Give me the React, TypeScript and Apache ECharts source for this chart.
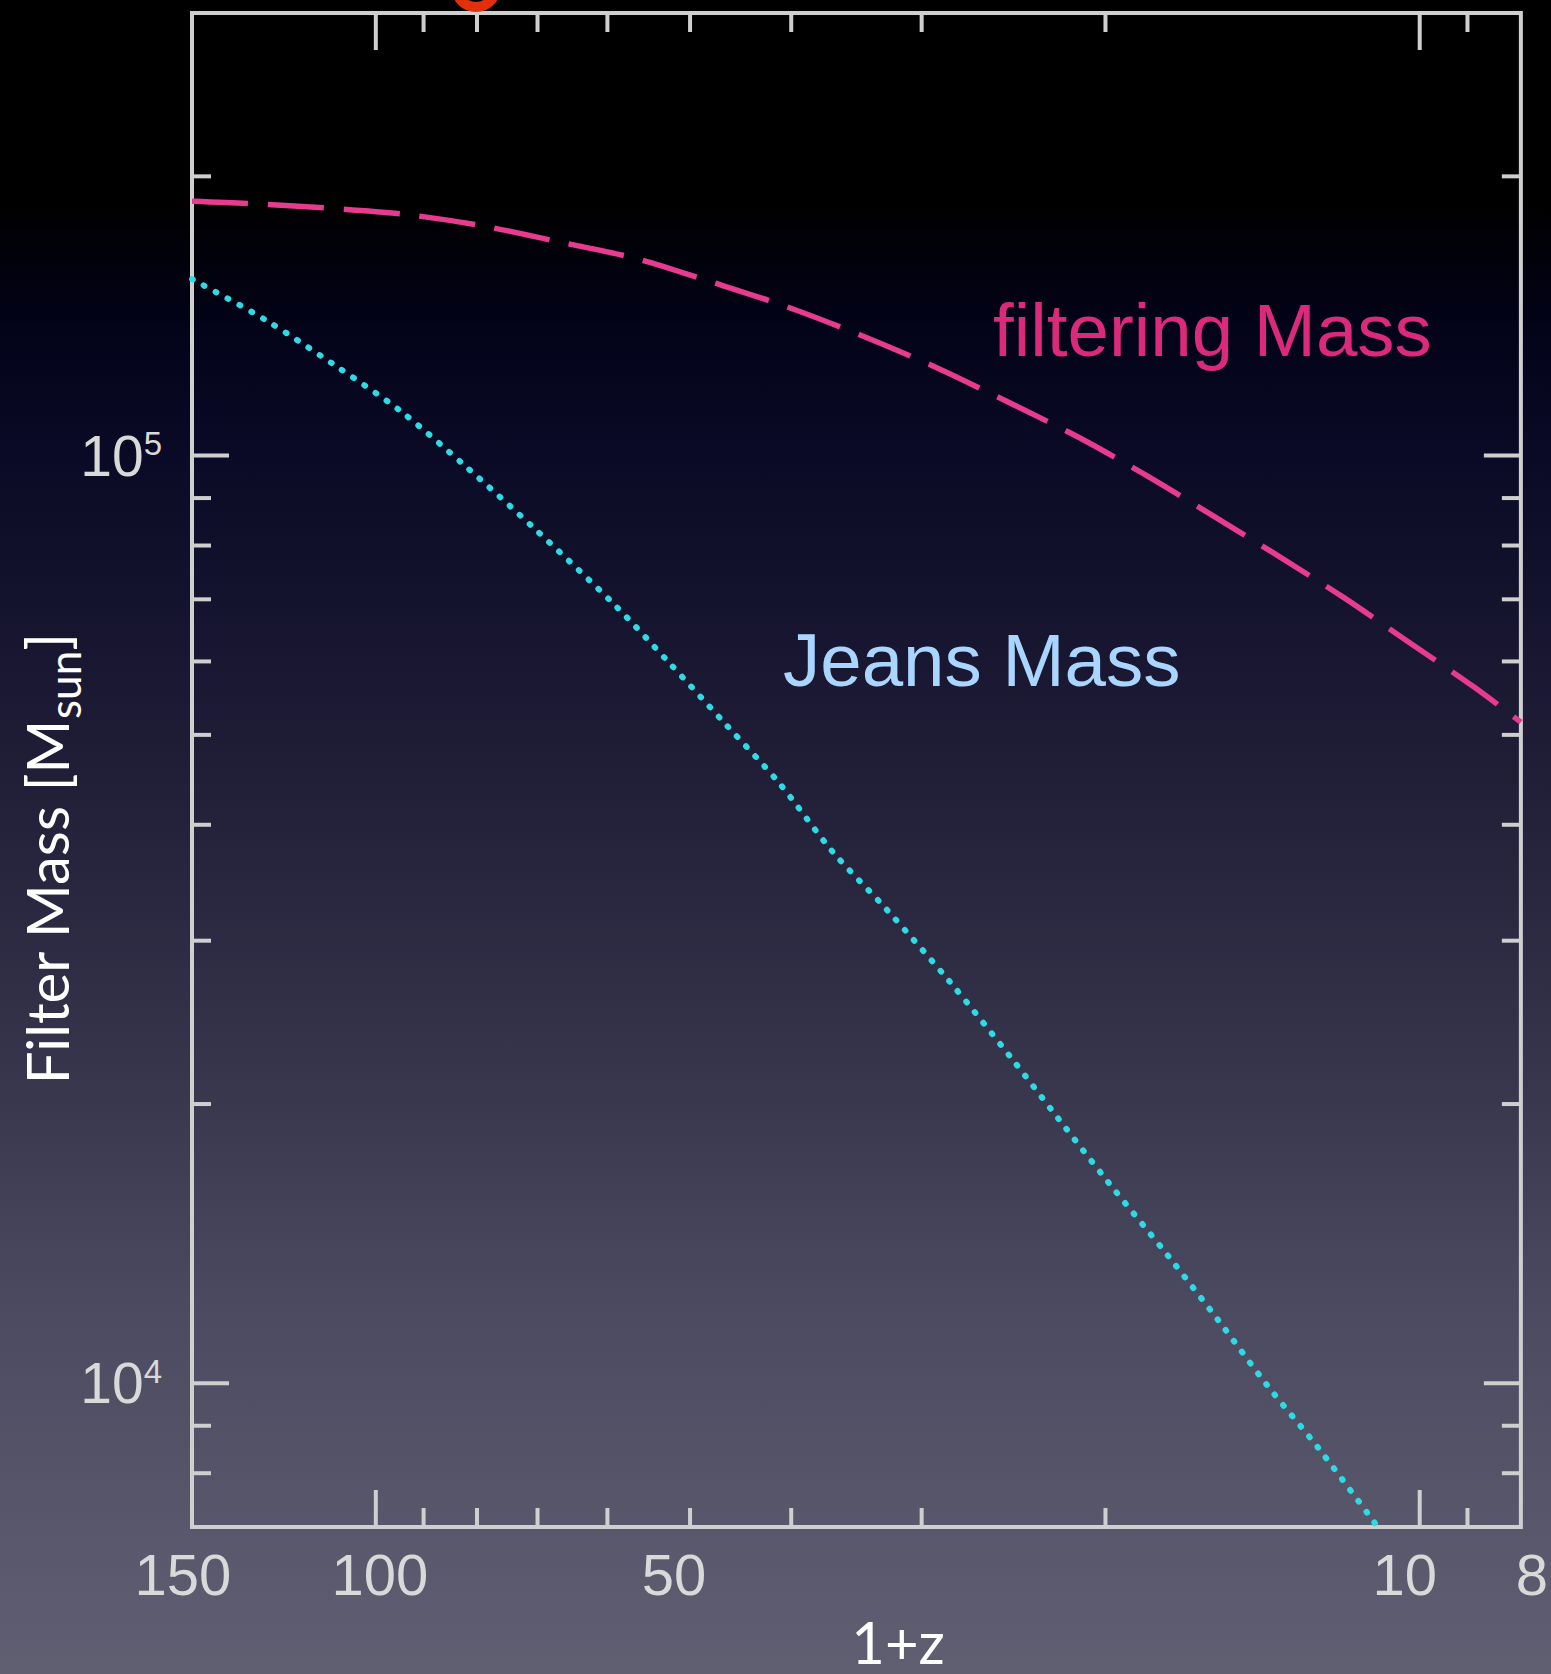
import React, { useEffect, useRef } from "react";
import * as echarts from "echarts";

// ---- axis ranges & ticks (1+z on a reversed log axis, mass on a log axis) ----
const X_MIN = 8;
const X_MAX = 150;
const Y_MIN = 7000;
const Y_MAX = 300000;
const xTickLabels = [150, 100, 50, 10, 8];
const xMajorTicks = [100, 10];
const xMinorTicks = [90, 80, 70, 60, 50, 40, 30, 20, 9];
const yTickLabels = [100000, 10000];
const yMajorTicks = [100000, 10000];
const yMinorTicks = [200000, 90000, 80000, 70000, 60000, 50000, 40000, 30000, 20000, 9000, 8000];

// ---- filtering mass (dashed, pink) ----
const filteringZ = [150, 132.7, 112.2, 93.8, 79.3, 66.8, 56.2, 47.8, 40.6, 34.4, 29.3, 25.1, 21.2, 18.4, 15.9, 13.7, 11.8, 10.3, 8.87, 8.0];
const filteringMass = [188000, 187000, 185000, 182000, 177000, 170000, 163000, 154000, 145000, 135000, 125000, 115000, 104600, 95600, 86600, 78100, 70200, 63200, 56300, 51600];

// ---- Jeans mass (dotted, cyan) ----
const jeansZ = [150, 127.5, 110, 94.8, 81.8, 70.6, 59.1, 52.5, 46.2, 41.1, 36.5, 32.4, 28.2, 24.6, 22.2, 19.9, 17.4, 15.6, 14.0, 12.5, 11.0];
const jeansMass = [155000, 140000, 125600, 111800, 97100, 83600, 69100, 60000, 51300, 44400, 37400, 32400, 27100, 22400, 19300, 16500, 13700, 11700, 9950, 8510, 7030];

const AXIS_COLOR = "#cfcfcf";
const TICK_LABEL_COLOR = "#d9d9d9";
const LABEL_FONT = "'Liberation Sans', Arial, sans-serif";
const TITLE_FONT = "Lato, 'Open Sans', sans-serif";

function tickSeries(values: number[], axis: "x" | "y", len: number) {
  return {
    type: "custom",
    coordinateSystem: "cartesian2d",
    silent: true,
    clip: false,
    z: 6,
    data: values.map((v) => (axis === "x" ? [v, Y_MIN] : [X_MIN, v])),
    renderItem: (_params: any, api: any) => {
      const style = { stroke: AXIS_COLOR, lineWidth: 4 };
      if (axis === "x") {
        const v = api.value(0);
        const b = api.coord([v, Y_MIN]);
        const t = api.coord([v, Y_MAX]);
        return {
          type: "group",
          children: [
            { type: "line", shape: { x1: b[0], y1: b[1], x2: b[0], y2: b[1] - len }, style },
            { type: "line", shape: { x1: t[0], y1: t[1], x2: t[0], y2: t[1] + len }, style },
          ],
        };
      }
      const v = api.value(1);
      const p1 = api.coord([X_MIN, v]);
      const p2 = api.coord([X_MAX, v]);
      const lx = Math.min(p1[0], p2[0]);
      const rx = Math.max(p1[0], p2[0]);
      return {
        type: "group",
        children: [
          { type: "line", shape: { x1: lx, y1: p1[1], x2: lx + len, y2: p1[1] }, style },
          { type: "line", shape: { x1: rx, y1: p1[1], x2: rx - len, y2: p1[1] }, style },
        ],
      };
    },
  };
}

const xLabelBase = { fontSize: 58, lineHeight: 58, color: TICK_LABEL_COLOR, fontFamily: LABEL_FONT };

export default function App() {
  const ref = useRef<HTMLDivElement>(null);

  useEffect(() => {
    document.body.style.margin = "0";
    document.body.style.overflow = "hidden";
    if (!ref.current) return;
    const chart = echarts.init(ref.current, null, { renderer: "svg", width: 1551, height: 1674 });

    const option: any = {
      animation: false,
      backgroundColor: "transparent",
      grid: {
        left: 192,
        right: 28,
        top: 13,
        bottom: 147,
        show: true,
        borderColor: AXIS_COLOR,
        borderWidth: 4,
        backgroundColor: "transparent",
      },
      xAxis: {
        type: "log",
        logBase: 10,
        min: X_MIN,
        max: X_MAX,
        inverse: true,
        axisLine: { show: false },
        axisTick: { show: false },
        splitLine: { show: false },
        minorTick: { show: false },
        axisLabel: {
          customValues: xTickLabels,
          margin: 18,
          formatter: (v: number) => {
            const n = Math.round(v);
            return `{l${n}|${n}}`;
          },
          rich: {
            l150: { ...xLabelBase, padding: [0, 18, 0, 0] },
            l100: { ...xLabelBase, padding: [0, 0, 0, 8] },
            l50: { ...xLabelBase, padding: [0, 32, 0, 0] },
            l10: { ...xLabelBase, padding: [0, 30, 0, 0] },
            l8: { ...xLabelBase, padding: [0, 0, 0, 22] },
          },
        },
      },
      yAxis: {
        type: "log",
        logBase: 10,
        min: Y_MIN,
        max: Y_MAX,
        axisLine: { show: false },
        axisTick: { show: false },
        splitLine: { show: false },
        minorTick: { show: false },
        axisLabel: {
          customValues: yTickLabels,
          margin: 30,
          formatter: (v: number) => `{b|10}{s|${Math.round(Math.log10(v))}}`,
          rich: {
            b: { fontSize: 57, lineHeight: 57, color: TICK_LABEL_COLOR, fontFamily: LABEL_FONT, verticalAlign: "top" },
            s: { fontSize: 33, lineHeight: 33, color: TICK_LABEL_COLOR, fontFamily: LABEL_FONT, verticalAlign: "top" },
          },
        },
      },
      series: [
        {
          name: "filtering Mass",
          type: "line",
          data: filteringZ.map((z, i) => [z, filteringMass[i]]),
          showSymbol: false,
          smooth: 0.3,
          clip: true,
          z: 4,
          lineStyle: { color: "#e63b8f", width: 5.5, type: [56, 20] },
        },
        {
          name: "Jeans Mass",
          type: "line",
          data: jeansZ.map((z, i) => [z, jeansMass[i]]),
          showSymbol: false,
          smooth: 0.3,
          clip: true,
          z: 4,
          lineStyle: { color: "#2fdae4", width: 6, type: [1, 12.5], cap: "round" },
        },
        tickSeries(xMajorTicks, "x", 37),
        tickSeries(xMinorTicks, "x", 19),
        tickSeries(yMajorTicks, "y", 37),
        tickSeries(yMinorTicks, "y", 19),
      ],
      graphic: [
        {
          type: "arc",
          shape: { cx: 476, cy: -13, r: 20, startAngle: 0, endAngle: Math.PI, clockwise: true },
          style: { stroke: "#e3300c", lineWidth: 10, fill: null },
          silent: true,
        },
        {
          type: "text",
          x: 993,
          y: 330,
          silent: true,
          style: {
            text: "filtering Mass",
            fill: "#db2a7b",
            fontSize: 74.5,
            fontFamily: LABEL_FONT,
            align: "left",
            textAlign: "left",
            verticalAlign: "middle",
            textVerticalAlign: "middle",
          },
        },
        {
          type: "text",
          x: 783,
          y: 660,
          silent: true,
          style: {
            text: "Jeans Mass",
            fill: "#a9d5ff",
            fontSize: 74.5,
            fontFamily: LABEL_FONT,
            align: "left",
            textAlign: "left",
            verticalAlign: "middle",
            textVerticalAlign: "middle",
          },
        },
        {
          type: "text",
          x: 898,
          y: 1641,
          silent: true,
          style: {
            text: "1+z",
            fill: "#ffffff",
            fontSize: 58,
            fontFamily: TITLE_FONT,
            align: "center",
            textAlign: "center",
            verticalAlign: "middle",
            textVerticalAlign: "middle",
          },
        },
        {
          type: "text",
          x: 47,
          y: 859,
          rotation: Math.PI / 2,
          silent: true,
          style: {
            text: "{a|Filter Mass [M}{b|sun}{a|]}",
            fill: "#ffffff",
            align: "center",
            textAlign: "center",
            verticalAlign: "middle",
            textVerticalAlign: "middle",
            rich: {
              a: { fontSize: 58, lineHeight: 60, fontFamily: TITLE_FONT, fill: "#ffffff", color: "#ffffff", verticalAlign: "top" },
              b: { fontSize: 44, lineHeight: 44, fontFamily: TITLE_FONT, fill: "#ffffff", color: "#ffffff", verticalAlign: "top", padding: [25, 0, 0, 0] },
            },
          },
        },
      ],
    };

    chart.setOption(option);
    return () => chart.dispose();
  }, []);

  return (
    <div
      ref={ref}
      style={{
        position: "absolute",
        left: 0,
        top: 0,
        width: 1551,
        height: 1674,
        background:
          "linear-gradient(to bottom, #000000 0%, #000000 12%, #03031a 20%, #0a0a26 27%, #181630 39%, #2a2840 54%, #3a384f 66%, #4b4a60 78%, #605f72 100%)",
      }}
    />
  );
}
